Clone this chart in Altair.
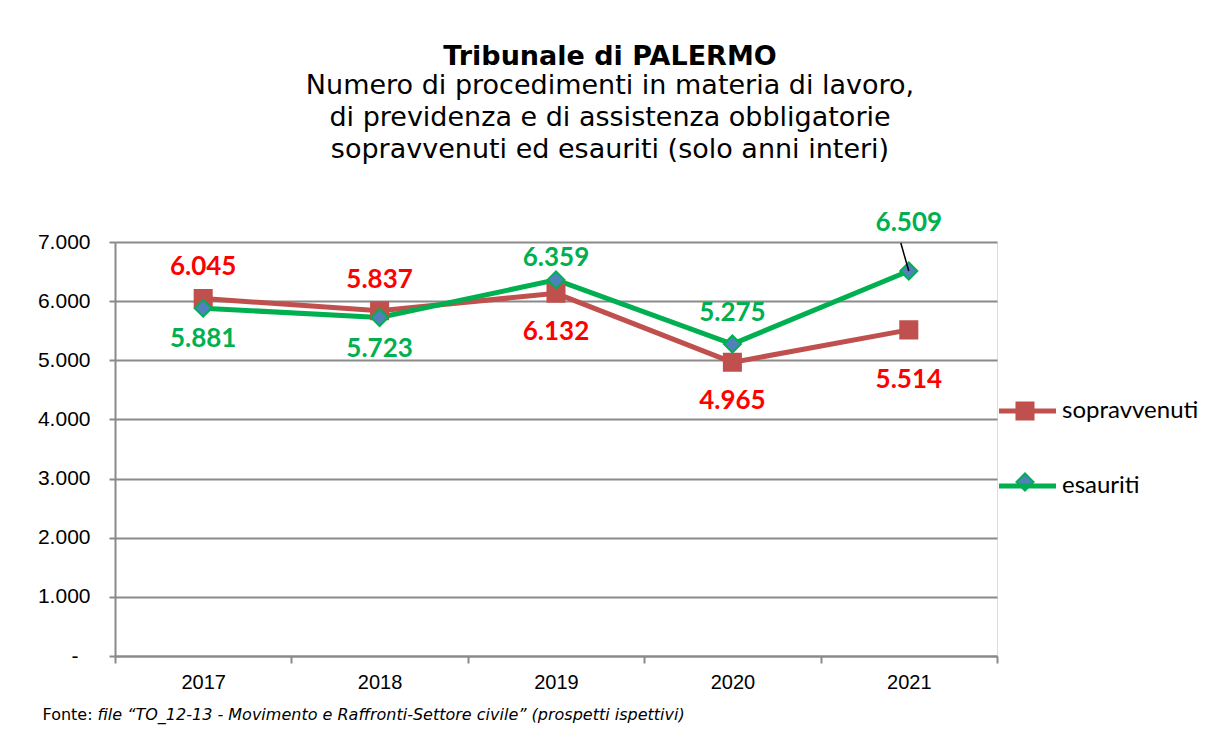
import altair as alt
import pandas as pd

# ---- data ----
anni = ["2017", "2018", "2019", "2020", "2021"]
sopravvenuti = [6045, 5837, 6132, 4965, 5514]
esauriti = [5881, 5723, 6359, 5275, 6509]
# label placement relative to the point (categories, not coordinates)
pos_sopravvenuti = ["sopra", "sopra", "sotto", "sotto", "sotto_lontano"]
pos_esauriti = ["sotto_vicino", "sotto_vicino", "sopra_vicino", "sopra", "richiamo"]
serie = ["sopravvenuti", "esauriti"]
y_ticks = [0, 1000, 2000, 3000, 4000, 5000, 6000, 7000]

titolo = "Tribunale di PALERMO"
sottotitolo = [
    "Numero di procedimenti in materia di lavoro,",
    "di previdenza e di assistenza obbligatorie",
    "sopravvenuti ed esauriti (solo anni interi)",
]
fonte_label = "Fonte:"
fonte_testo = "file \u201cTO_12-13 - Movimento e Raffronti-Settore civile\u201d (prospetti ispettivi)"

rows = []
for nome, valori, pos in [("sopravvenuti", sopravvenuti, pos_sopravvenuti),
                          ("esauriti", esauriti, pos_esauriti)]:
    for a, v, p in zip(anni, valori, pos):
        rows.append({"anno": a, "serie": nome, "serie_m": nome, "valore": v,
                     "pos": p, "etichetta": f"{v:,}".replace(",", ".")})
df = pd.DataFrame(rows)

GRAY = "#8a8a8a"

x_enc = alt.X(
    "anno:N",
    bandPosition=0.5,
    scale=alt.Scale(type="band", paddingInner=0, paddingOuter=0),
    axis=alt.Axis(
        tickBand="extent", labelAngle=0, grid=False,
        domainColor=GRAY, domainWidth=2, tickColor=GRAY, tickWidth=2, tickSize=7,
        labelFont="Liberation Sans", labelFontSize=20, labelColor="black", labelPadding=9,
        title=fonte_testo, titleFont="DejaVu Sans", titleFontSize=16, titleFontStyle="italic",
        titleFontWeight="normal", titleColor="black", titleAnchor="start", titleAlign="left",
        titleBaseline="middle", titleX=-18, titleY=58,
    ),
)
y_enc = alt.Y(
    "valore:Q",
    scale=alt.Scale(domain=[0, 7000], nice=False),
    axis=alt.Axis(
        values=y_ticks, grid=True, gridColor=GRAY, gridWidth=2,
        domainColor=GRAY, domainWidth=2, tickColor=GRAY, tickWidth=2, tickSize=6,
        labelFont="Liberation Sans", labelFontSize=21, labelColor="black",
        labelPadding={"condition": {"test": "datum.value == 0", "value": 31}, "value": 19},
        labelExpr="datum.value == 0 ? '-' : replace(format(datum.value, ','), ',', '.')",
        title=fonte_label, titleAngle=0, titleFont="DejaVu Sans", titleFontSize=16,
        titleFontWeight="normal", titleColor="black", titleAlign="left", titleBaseline="middle",
        titleX=-73, titleY=472,
    ),
)

base = alt.Chart(df)

linee = base.mark_line(strokeWidth=5).encode(
    x=x_enc, y=y_enc,
    color=alt.Color(
        "serie:N",
        scale=alt.Scale(domain=serie, range=["#C0504D", "#00B050"]),
        legend=alt.Legend(
            orient="none", legendX=881, legendY=159, title=None, padding=0,
            symbolType="stroke", symbolSize=3250, symbolStrokeWidth=5,
            labelFont="Lato", labelFontSize=24, labelColor="black", labelOffset=3,
            rowPadding=51, clipHeight=20,
        ),
    ),
    order=alt.Order("anno:N"),
)

leg_m = alt.Legend(
    orient="none", legendX=900, legendY=159, title=None, padding=0,
    symbolSize=290, symbolStrokeWidth=2, labelExpr="''", labelFontSize=1,
    rowPadding=51, clipHeight=20,
)
punti = base.mark_point(filled=True, size=290, strokeWidth=2, opacity=1).encode(
    x=x_enc, y=y_enc,
    shape=alt.Shape("serie_m:N", scale=alt.Scale(domain=serie, range=["square", "diamond"]), legend=leg_m),
    fill=alt.Fill("serie_m:N", scale=alt.Scale(domain=serie, range=["#C0504D", "#4F81BD"]), legend=leg_m),
    stroke=alt.Stroke("serie_m:N", scale=alt.Scale(domain=serie, range=["#C0504D", "#00B050"]), legend=leg_m),
)

richiamo = base.transform_filter("datum.pos == 'richiamo'").mark_rule(
    color="black", strokeWidth=1.5, x2Offset=-8, y2Offset=-28
).encode(
    x=x_enc, y=y_enc,
    x2=alt.X2("anno:N", bandPosition=0.5),
    y2=alt.Y2("valore:Q"),
)

colore_testo = alt.condition("datum.serie == 'sopravvenuti'", alt.value("#FF0000"), alt.value("#00B050"))

def etichette(pos, dy):
    return base.transform_filter(f"datum.pos == '{pos}'").mark_text(
        font="Lato", fontSize=26, fontWeight="bold", dy=dy, baseline="middle", align="center"
    ).encode(x=x_enc, y=y_enc, text="etichetta:N", color=colore_testo)

chart = alt.layer(
    linee, punti, richiamo,
    etichette("sopra", -31), etichette("sopra_vicino", -22),
    etichette("sotto", 39), etichette("sotto_vicino", 31), etichette("sotto_lontano", 50),
    etichette("richiamo", -48),
).properties(
    width=882, height=414,
    autosize=alt.AutoSizeParams(type="none"),
    padding={"left": 107, "top": 234, "right": 205, "bottom": 80},
    title=alt.TitleParams(
        text=titolo, subtitle=sottotitolo,
        font="DejaVu Sans", fontSize=27, fontWeight="bold", color="black",
        subtitleFont="DejaVu Sans", subtitleFontSize=27, subtitleColor="black",
        subtitleLineHeight=32, subtitlePadding=2,
        anchor="middle", dx=54, offset=46,
    ),
).resolve_scale(
    color="independent"
).configure_view(strokeWidth=0).configure(background="white")

chart.save("out.html", embed_options={"renderer": "svg", "actions": False})
